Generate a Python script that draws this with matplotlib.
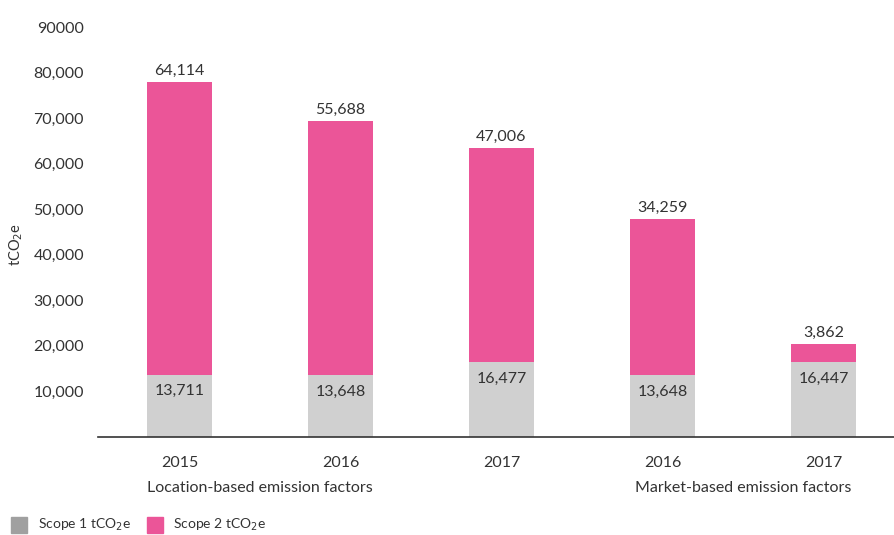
import matplotlib.pyplot as plt

# values
years = ['2015', '2016', '2017', '2016', '2017']
scope1 = [13711, 13648, 16477, 13648, 16447]
scope2 = [64114, 55688, 47006, 34259, 3862]
groups = ['Location-based emission factors', 'Market-based emission factors']
yticks = [10000, 20000, 30000, 40000, 50000, 60000, 70000, 80000, 90000]
ytick_labels = ['10,000', '20,000', '30,000', '40,000', '50,000',
                '60,000', '70,000', '80,000', '90000']

grey = '#d0d0d0'
pink = '#eb5598'
text_col = '#333333'

plt.rcParams['font.family'] = ['Lato', 'DejaVu Sans']

fig = plt.figure(figsize=(8.94, 5.35), dpi=100)
ax = fig.add_axes([98 / 894, 0.1832, 1 - 98 / 894, 0.9495 - 0.1832])

x = range(len(years))
width = 0.404
ax.bar(x, scope1, width, color=grey, label='Scope 1 tCO$_2$e')
ax.bar(x, scope2, width, bottom=scope1, color=pink, label='Scope 2 tCO$_2$e')

for i in x:
    total = scope1[i] + scope2[i]
    ax.annotate(f'{scope2[i]:,}', (i, total), xytext=(0, 3), textcoords='offset points',
                ha='center', va='bottom', fontsize=11.5, color=text_col)
    ax.annotate(f'{scope1[i]:,}', (i, scope1[i]), xytext=(0, -7), textcoords='offset points',
                ha='center', va='top', fontsize=11.5, color=text_col)

ax.set_xlim(-0.506, 4.438)
ax.set_ylim(0, 90000)
ax.set_yticks(yticks)
ax.set_yticklabels(ytick_labels)
ax.set_xticks(list(x))
ax.set_xticklabels(years)
ax.tick_params(length=0, labelsize=11.5, labelcolor=text_col)
ax.tick_params(axis='x', pad=14)
ax.tick_params(axis='y', pad=10)

for s in ['top', 'right', 'left']:
    ax.spines[s].set_visible(False)
ax.spines['bottom'].set_color('#333333')
ax.spines['bottom'].set_linewidth(1.2)

ax.set_ylabel('tCO$_2$e', fontsize=10.5, color=text_col)
ax.yaxis.set_label_coords(-0.092, 0.47)

# group labels under the year ticks
ax.text(0.5, -0.125, groups[0], transform=ax.get_xaxis_transform(), ha='center', va='center',
        fontsize=11.5, color=text_col)
ax.text(3.5, -0.125, groups[1], transform=ax.get_xaxis_transform(), ha='center', va='center',
        fontsize=11.5, color=text_col)

# legend at the bottom-left
fig.patches.append(plt.Rectangle((11 / 894, 1 - 533 / 535), 16 / 894, 16 / 535,
                                 transform=fig.transFigure, color='#a0a0a0'))
fig.text(38 / 894, 1 - 525 / 535, 'Scope 1 tCO$_2$e', fontsize=10, color=text_col, va='center')
fig.patches.append(plt.Rectangle((147 / 894, 1 - 533 / 535), 16 / 894, 16 / 535,
                                 transform=fig.transFigure, color=pink))
fig.text(173 / 894, 1 - 525 / 535, 'Scope 2 tCO$_2$e', fontsize=10, color=text_col, va='center')

fig.savefig('out.png', dpi=100)
